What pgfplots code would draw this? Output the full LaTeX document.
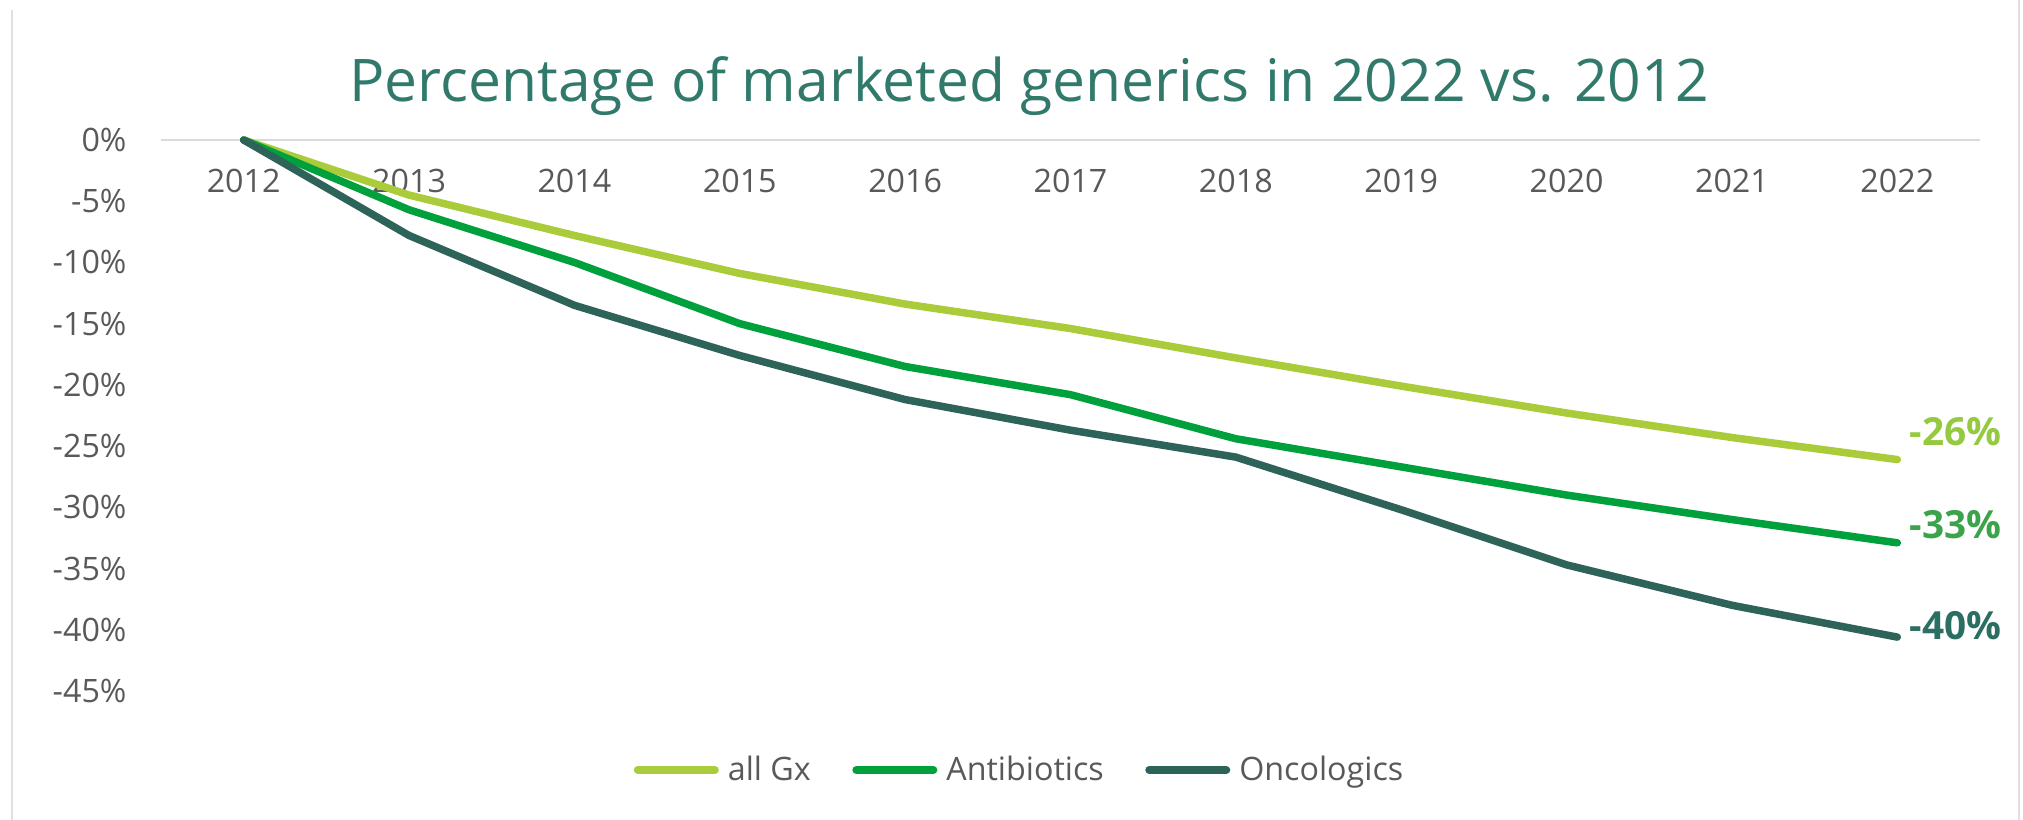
\documentclass[border=0pt]{standalone}
\usepackage{fontspec}
\setmainfont{Open Sans}
\usepackage{pgfplots}
\pgfplotsset{compat=1.18}
\definecolor{cgx}{HTML}{AACB3A}
\definecolor{cab}{HTML}{00A03C}
\definecolor{conc}{HTML}{2E6359}
\definecolor{ctitle}{HTML}{317A6B}
\definecolor{ctick}{HTML}{595959}
\definecolor{lgx}{HTML}{95C93F}
\definecolor{lab}{HTML}{3BA34A}
\definecolor{lonc}{HTML}{2B6F62}
\begin{document}
\begin{tikzpicture}
\useasboundingbox (-64.4pt,-51.6pt) rectangle (744.8pt,276.4pt);
\draw[black!12, line width=1pt] (-59.6pt,-51.6pt) -- (-59.6pt,272.4pt);
\draw[black!12, line width=1pt] (743.2pt,-51.6pt) -- (743.2pt,276.4pt);
\node[anchor=base, text=ctitle, inner sep=0pt, font=\fontsize{23.5}{27}\selectfont] at (347.2pt,235.6pt) {Percentage of marketed generics in 2022 vs. 2012};
\begin{axis}[
  at={(0,0)}, anchor=south west,
  scale only axis, width=727.6pt, height=220.4pt,
  xmin=2011.5, xmax=2022.5, ymin=-45, ymax=0,
  clip=false,
  axis line style={draw=none},
  tick style={draw=none},
  xtick={2012,2013,2014,2015,2016,2017,2018,2019,2020,2021,2022},
  xticklabels={2012,2013,2014,2015,2016,2017,2018,2019,2020,2021,2022},
  xticklabel style={anchor=base, inner sep=0pt, yshift=199.2pt, text=ctick, font=\fontsize{12.9}{15}\selectfont},
  ytick={-45,-40,-35,-30,-25,-20,-15,-10,-5,0},
  yticklabels={-45\%,-40\%,-35\%,-30\%,-25\%,-20\%,-15\%,-10\%,-5\%,0\%},
  yticklabel style={anchor=east, inner sep=0pt, xshift=-13.6pt, text=ctick, font=\fontsize{12.9}{15}\selectfont},
  extra y ticks={0},
  extra y tick labels={},
  extra y tick style={grid=major, major grid style={draw=black!15, line width=0.8pt}},
  legend columns=3,
  legend style={at={(0.4739,-0.1434)}, anchor=center, draw=none, fill=none, inner sep=0pt,
    font=\fontsize{12.9}{15}\selectfont, text=ctick,
    nodes={inner xsep=3.6pt, inner ysep=0pt},
    /tikz/every even column/.append style={column sep=13pt}},
  legend image code/.code={\draw[#1, line cap=round, line width=3.2pt] (0pt,0pt) -- (30.8pt,0pt);},
  every axis plot/.append style={line width=3pt, line join=round, line cap=round},
]
\addplot[cgx] coordinates {(2012,0) (2013,-4.5) (2014,-7.8) (2015,-10.9) (2016,-13.4) (2017,-15.4) (2018,-17.8) (2019,-20.1) (2020,-22.3) (2021,-24.3) (2022,-26.1)};
\addlegendentry{all Gx}
\addplot[cab] coordinates {(2012,0) (2013,-5.7) (2014,-10.0) (2015,-15.0) (2016,-18.5) (2017,-20.8) (2018,-24.4) (2019,-26.7) (2020,-29.0) (2021,-31.0) (2022,-32.9)};
\addlegendentry{Antibiotics}
\addplot[conc] coordinates {(2012,0) (2013,-7.8) (2014,-13.5) (2015,-17.6) (2016,-21.2) (2017,-23.7) (2018,-25.9) (2019,-30.2) (2020,-34.7) (2021,-38.0) (2022,-40.6)};
\addlegendentry{Oncologics}
\node[anchor=base west, inner sep=0pt, xshift=4.8pt, text=lgx, font=\bfseries\fontsize{15.5}{18}\selectfont] at (axis cs:2022,-24.92) {-26\%};
\node[anchor=base west, inner sep=0pt, xshift=4.8pt, text=lab, font=\bfseries\fontsize{15.5}{18}\selectfont] at (axis cs:2022,-32.52) {-33\%};
\node[anchor=base west, inner sep=0pt, xshift=4.8pt, text=lonc, font=\bfseries\fontsize{15.5}{18}\selectfont] at (axis cs:2022,-40.77) {-40\%};
\end{axis}
\end{tikzpicture}
\end{document}
